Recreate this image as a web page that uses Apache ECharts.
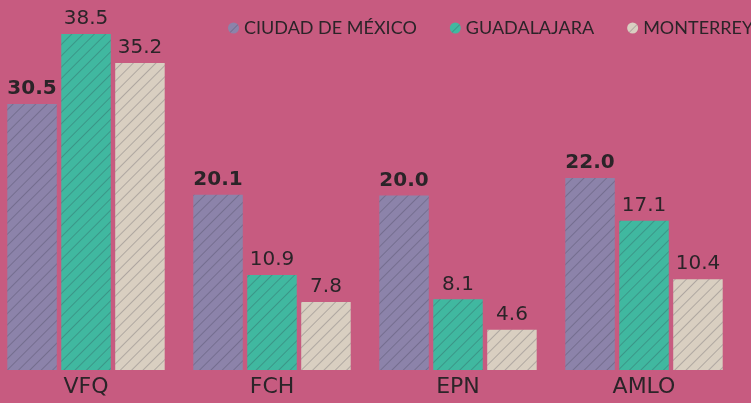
<!DOCTYPE html>
<html><head><meta charset="utf-8">
<script src="https://cdn.jsdelivr.net/npm/echarts@6/dist/echarts.min.js"></script>
<style>html,body{margin:0;padding:0;background:#c75b80;overflow:hidden;width:751px;height:403px;position:relative;}#c{position:absolute;left:-8px;top:0;width:759px;height:403px;}</style>
</head><body><div id="c"></div>
<script>
const categories = ['VFQ', 'FCH', 'EPN', 'AMLO'];
const seriesNames = ['CIUDAD DE MÉXICO', 'GUADALAJARA', 'MONTERREY'];
const cdmx = [30.5, 20.1, 20.0, 22.0];
const gdl = [38.5, 10.9, 8.1, 17.1];
const mty = [35.2, 7.8, 4.6, 10.4];
const colors = ['#8c83aa', '#40b8a0', '#d9cfc1'];

const chart = echarts.init(document.getElementById('c'));
const decal = {symbol: 'rect', symbolSize: 1, dashArrayX: [1, 0], dashArrayY: [1, 7], rotation: -Math.PI / 4, color: 'rgba(40,40,60,0.24)'};
function mk(name, data, i, bold) {
  return {
    name, type: 'bar', data, barWidth: 49.5, barGap: '9%',
    itemStyle: {color: colors[i], decal},
    label: {show: true, position: 'top', distance: 5, color: '#2b2428', fontFamily: 'DejaVu Sans', fontSize: 20,
      fontWeight: bold ? 'bold' : 'normal', formatter: p => p.value.toFixed(1)}
  };
}
chart.setOption({
  backgroundColor: '#c75b80',
  animation: false,
  legend: {left: 231, top: 14, width: 600, orient: 'horizontal', icon: 'circle', itemWidth: 11, itemHeight: 11, itemGap: 33,
    textStyle: {color: '#2b2428', fontFamily: 'Lato', fontSize: 18}, data: seriesNames},
  grid: {left: 1, right: 14, top: 21, bottom: 33},
  xAxis: {type: 'category', data: categories, axisLine: {show: false}, axisTick: {show: false},
    axisLabel: {color: '#2b2428', fontFamily: 'DejaVu Sans', fontSize: 22, margin: 6}},
  yAxis: {type: 'value', min: 0, max: 40, show: false, splitLine: {show: false}},
  series: [mk(seriesNames[0], cdmx, 0, true), mk(seriesNames[1], gdl, 1, false), mk(seriesNames[2], mty, 2, false)]
});
</script></body></html>
